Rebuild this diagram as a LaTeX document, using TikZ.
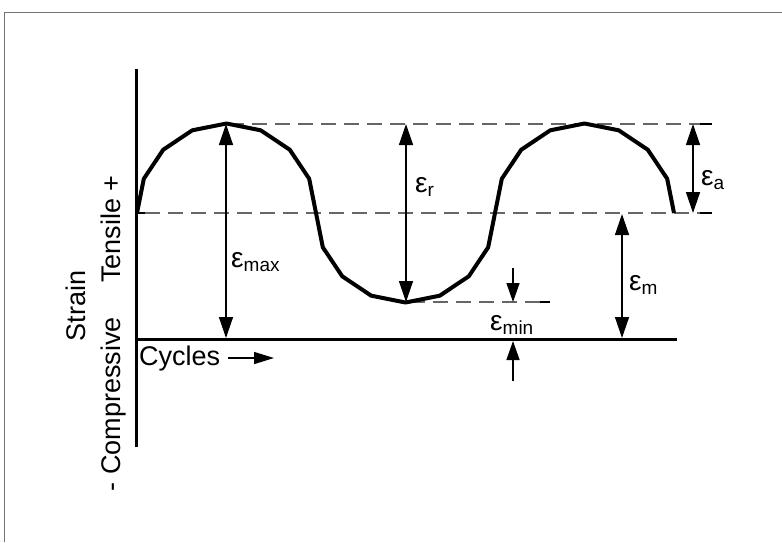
\documentclass[tikz,border=0pt]{standalone}
\usepackage{fontspec}
\setmainfont{Liberation Sans}
\usetikzlibrary{arrows.meta}
\begin{document}
\begin{tikzpicture}[x=1pt,y=-1pt,
  dim/.style={line width=1.4pt,{Triangle[length=21pt,width=14pt]}-{Triangle[length=21pt,width=14pt]}},
  onearrow/.style={line width=1.4pt,-{Triangle[length=19pt,width=13pt]}},
  guide/.style={line width=1.2pt,draw=black!60,dash pattern=on 15pt off 8pt},
  tick/.style={line width=2.5pt},
  axis/.style={line width=3pt},
  wave/.style={line width=4pt,line join=round},
  lbl/.style={font=\fontsize{27}{27}\selectfont,inner sep=0pt},
  eps/.style={font=\fontsize{28}{28}\selectfont,inner sep=0pt}
]
\newcommand{\subtxt}[1]{\raisebox{-3.5pt}{\fontsize{19}{19}\selectfont #1}}
\useasboundingbox (0,0) rectangle (782,542);
% frame
\draw[black!55,line width=1pt] (4.5,542) -- (4.5,12) -- (782,12);
% axes
\coordinate (ytop) at (136,69);
\coordinate (ybot) at (136,447);
\coordinate (orig) at (136,339);
\coordinate (xend) at (677,339);
\draw[axis] (ytop) -- (ybot);
\draw[axis] (orig) -- (xend);
% guide lines
\coordinate (t1) at (229,124); \coordinate (t2) at (700,124); \coordinate (t3) at (712,124);
\coordinate (m0) at (137,213); \coordinate (m1) at (145,213); \coordinate (m2) at (700,213); \coordinate (m3) at (712,213);
\coordinate (b1) at (410,302); \coordinate (b2) at (540,302); \coordinate (b3) at (550,302);
\draw[guide] (t1) -- (t2);
\draw[guide] (m1) -- (m2);
\draw[guide] (b1) -- (b2);
\draw[tick] (t2) -- (t3);
\draw[tick] (m2) -- (m3);
\draw[tick] (b2) -- (b3);
\draw[tick] (m0) -- (m1);
% wave
\def\r{89.5}
\draw[wave] (137,213)
  \foreach \a in {157.5,135,...,0} { -- ({226.5+\r*cos(\a)},{213-\r*sin(\a)}) }
  \foreach \a in {202.5,225,...,360} { -- ({405.5+\r*cos(\a)},{213-\r*sin(\a)}) }
  \foreach \a in {157.5,135,...,0} { -- ({584.5+\r*cos(\a)},{213-\r*sin(\a)}) };
% dimension arrows
\coordinate (emaxT) at (226,124); \coordinate (emaxB) at (226,338);
\draw[dim] (emaxT) -- (emaxB);
\coordinate (erT) at (406,124); \coordinate (erB) at (406,302);
\draw[dim] (erT) -- (erB);
\coordinate (eaT) at (693,124); \coordinate (eaB) at (693,213);
\draw[dim] (eaT) -- (eaB);
\coordinate (emT) at (622,214); \coordinate (emB) at (622,338);
\draw[dim] (emT) -- (emB);
\coordinate (eminA) at (513,268); \coordinate (eminAt) at (513,302);
\draw[onearrow] (eminA) -- (eminAt);
\coordinate (eminB) at (513,381); \coordinate (eminBt) at (513,341);
\draw[onearrow] (eminB) -- (eminBt);
% labels
\node[eps,anchor=west] (lmax) at (231,262) {ε\subtxt{max}};
\node[eps,anchor=west] (lr) at (415,187) {ε\subtxt{r}};
\node[eps,anchor=west] (la) at (701,180) {ε\subtxt{a}};
\node[eps,anchor=west] (lm) at (629,285) {ε\subtxt{m}};
\node[eps,anchor=west] (lmin) at (490,325) {ε\subtxt{min}};
\node[lbl,rotate=90,anchor=base] (strain) at (85,306) {Strain};
\node[lbl,rotate=90,anchor=base west] (tens) at (120,283) {Tensile +};
\node[lbl,rotate=90,anchor=base east] (comp) at (120,317) {- Compressive};
\node[lbl,anchor=base west] (cyc) at (139,365) {Cycles};
\coordinate (ca) at (228,358); \coordinate (cb) at (274,358);
\draw[line width=1.4pt,-{Triangle[length=20pt,width=12pt]}] (ca) -- (cb);
\end{tikzpicture}
\end{document}
